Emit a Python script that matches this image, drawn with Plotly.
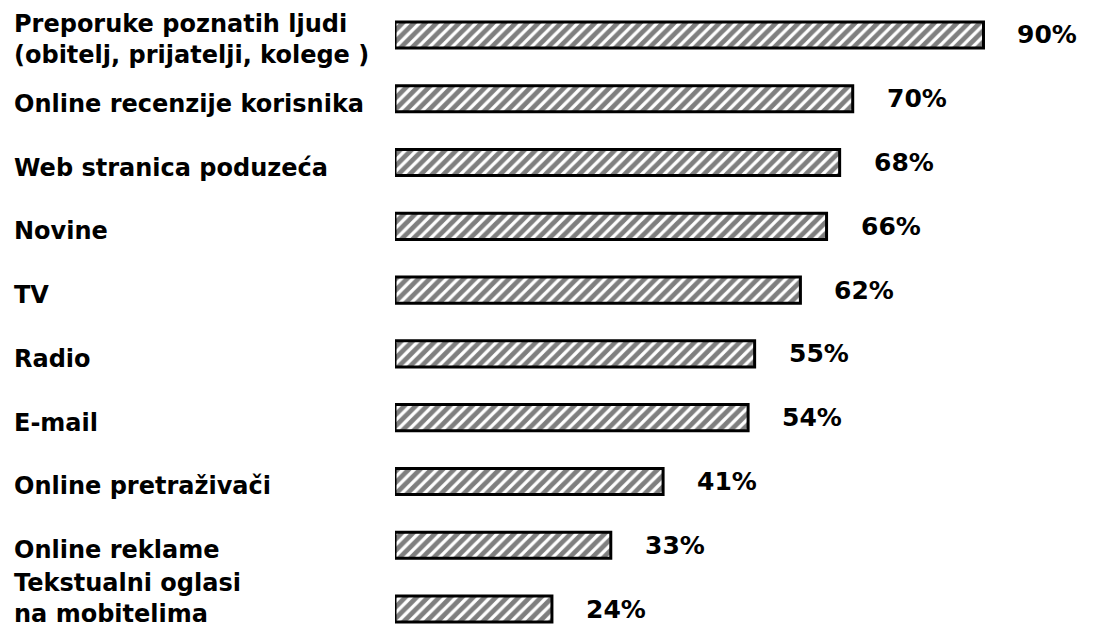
import plotly.graph_objects as go

categories = [
    "Preporuke poznatih ljudi<br>(obitelj, prijatelji, kolege )",
    "Online recenzije korisnika",
    "Web stranica poduzeća",
    "Novine",
    "TV",
    "Radio",
    "E-mail",
    "Online pretraživači",
    "Online reklame",
    "Tekstualni oglasi<br>na mobitelima",
]
values = [90, 70, 68, 66, 62, 55, 54, 41, 33, 24]
value_labels = ["90%", "70%", "68%", "66%", "62%", "55%", "54%", "41%", "33%", "24%"]

# page body has an 8px margin, so the figure is sized to fit the window
W, H = 1103, 622
Y_RANGE = [9.329, -0.423]
px_per_cat = H / (Y_RANGE[0] - Y_RANGE[1])

LABEL_SIZE = 24
LINE_H = LABEL_SIZE * 1.3

fig = go.Figure()
fig.add_trace(go.Bar(
    x=values,
    y=categories,
    orientation="h",
    width=0.41,
    marker=dict(
        color="white",
        line=dict(color="black", width=3),
        pattern=dict(shape="/", fgcolor="black", bgcolor="white", size=8, solidity=0.6),
    ),
    hoverinfo="skip",
))

annotations = []
for idx, (cat, v, lab) in enumerate(zip(categories, values, value_labels)):
    annotations.append(dict(
        x=v, y=cat, xref="x", yref="y", text=lab, showarrow=False,
        xanchor="left", yanchor="middle", xshift=32,
        font=dict(family="DejaVu Sans", size=25, color="black", weight="bold"),
    ))
    n = len(cat.split("<br>"))
    center_px = (idx - Y_RANGE[1]) * px_per_cat
    shift = -5
    # keep the whole label box inside the figure
    bottom = center_px - shift + n * LINE_H / 2
    if bottom > H:
        shift += bottom - H
    annotations.append(dict(
        x=4 / W, y=cat, xref="paper", yref="y", text=cat, showarrow=False,
        xanchor="left", yanchor="middle", align="left", yshift=shift,
        font=dict(family="DejaVu Sans", size=LABEL_SIZE, color="black", weight="bold"),
    ))

fig.update_layout(
    width=W, height=H,
    margin=dict(l=0, r=0, t=0, b=0),
    paper_bgcolor="white", plot_bgcolor="white",
    showlegend=False,
    annotations=annotations,
    xaxis=dict(domain=[387 / W, 1.0], range=[0, 109.5], visible=False, fixedrange=True),
    yaxis=dict(type="category", range=Y_RANGE, visible=False, fixedrange=True),
)

fig.write_html("out.html")
